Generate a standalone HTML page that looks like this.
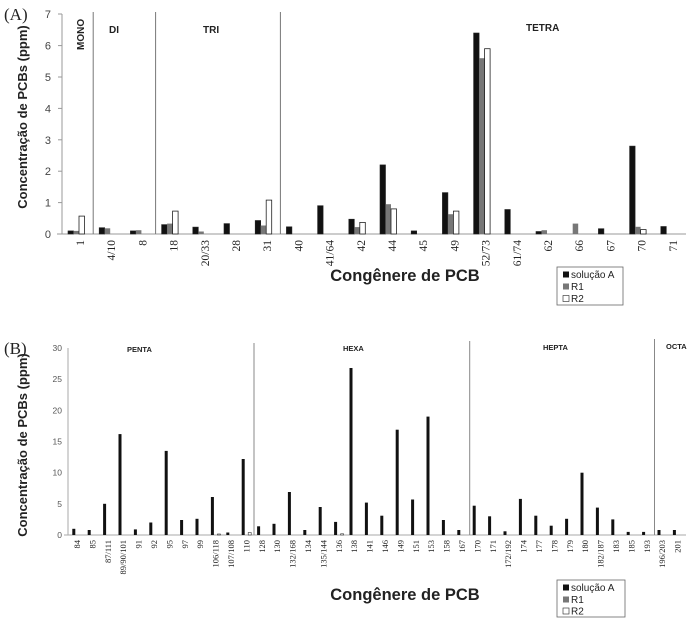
<!DOCTYPE html>
<html><head><meta charset="utf-8"><style>
html,body{margin:0;padding:0;background:#fff}
svg{display:block}
.t{font-family:"Liberation Serif",serif;fill:#222}
.s{font-family:"Liberation Sans",sans-serif}
</style></head><body>
<svg width="694" height="621" viewBox="0 0 694 621" xmlns="http://www.w3.org/2000/svg">
<!-- ================= A ================= -->
<text x="4" y="20" class="t" font-size="17">(A)</text>
<text transform="translate(27,117) rotate(-90)" text-anchor="middle" class="s" font-size="13" font-weight="bold" fill="#222">Concentração de PCBs (ppm)</text>
<g class="s" font-size="11" fill="#444" text-anchor="end">
<text x="51" y="238">0</text><text x="51" y="206.6">1</text><text x="51" y="175.2">2</text><text x="51" y="143.8">3</text><text x="51" y="112.4">4</text><text x="51" y="81">5</text><text x="51" y="49.6">6</text><text x="51" y="18.2">7</text>
</g>
<g stroke="#999" stroke-width="1">
<line x1="62" y1="14" x2="62" y2="234"/>
<line x1="57" y1="234" x2="686" y2="234"/>
<line x1="58" y1="14" x2="62" y2="14"/><line x1="58" y1="45.6" x2="62" y2="45.6"/><line x1="58" y1="77" x2="62" y2="77"/><line x1="58" y1="108.4" x2="62" y2="108.4"/><line x1="58" y1="139.8" x2="62" y2="139.8"/><line x1="58" y1="171.2" x2="62" y2="171.2"/><line x1="58" y1="202.6" x2="62" y2="202.6"/>
</g>
<g stroke="#777" stroke-width="1">
<line x1="93.2" y1="12" x2="93.2" y2="234"/>
<line x1="155.6" y1="12" x2="155.6" y2="234"/>
<line x1="280.4" y1="12" x2="280.4" y2="234"/>
</g>
<g class="s" font-size="10" font-weight="bold" fill="#222">
<text transform="translate(84,50) rotate(-90)">MONO</text>
<text x="109" y="33">DI</text>
<text x="203" y="33">TRI</text>
<text x="526" y="31">TETRA</text>
</g>
<g stroke="#222" stroke-width="0.6">
<rect x="68" y="230.9" width="5.5" height="3.1" fill="#111"/>
<rect x="99.2" y="227.7" width="5.5" height="6.3" fill="#111"/>
<rect x="130.4" y="230.9" width="5.5" height="3.1" fill="#111"/>
<rect x="161.6" y="224.6" width="5.5" height="9.4" fill="#111"/>
<rect x="192.8" y="227.1" width="5.5" height="6.9" fill="#111"/>
<rect x="224" y="223.6" width="5.5" height="10.4" fill="#111"/>
<rect x="255.2" y="220.5" width="5.5" height="13.5" fill="#111"/>
<rect x="286.4" y="226.8" width="5.5" height="7.2" fill="#111"/>
<rect x="317.6" y="205.7" width="5.5" height="28.3" fill="#111"/>
<rect x="348.8" y="219.2" width="5.5" height="14.8" fill="#111"/>
<rect x="380" y="164.9" width="5.5" height="69.1" fill="#111"/>
<rect x="411.2" y="230.9" width="5.5" height="3.1" fill="#111"/>
<rect x="442.4" y="192.6" width="5.5" height="41.4" fill="#111"/>
<rect x="473.6" y="33" width="5.5" height="201" fill="#111"/>
<rect x="504.8" y="209.5" width="5.5" height="24.5" fill="#111"/>
<rect x="536" y="231.5" width="5.5" height="2.5" fill="#111"/>
<rect x="598.4" y="228.7" width="5.5" height="5.3" fill="#111"/>
<rect x="629.6" y="146.1" width="5.5" height="87.9" fill="#111"/>
<rect x="660.8" y="226.5" width="5.5" height="7.5" fill="#111"/>
</g>
<g fill="#777">
<rect x="73.5" y="230.9" width="5.5" height="3.1"/>
<rect x="104.7" y="228.3" width="5.5" height="5.7"/>
<rect x="135.9" y="230.2" width="5.5" height="3.8"/>
<rect x="167.1" y="223.6" width="5.5" height="10.4"/>
<rect x="198.3" y="231.5" width="5.5" height="2.5"/>
<rect x="260.7" y="225.5" width="5.5" height="8.5"/>
<rect x="354.3" y="227.1" width="5.5" height="6.9"/>
<rect x="385.5" y="204.2" width="5.5" height="29.8"/>
<rect x="447.9" y="214.2" width="5.5" height="19.8"/>
<rect x="479.1" y="58.2" width="5.5" height="175.8"/>
<rect x="541.5" y="230.2" width="5.5" height="3.8"/>
<rect x="572.7" y="223.6" width="5.5" height="10.4"/>
<rect x="635.1" y="226.8" width="5.5" height="7.2"/>
</g>
<g fill="#fff" stroke="#222" stroke-width="0.8">
<rect x="79" y="216.1" width="5.5" height="17.9"/>
<rect x="172.6" y="211.1" width="5.5" height="22.9"/>
<rect x="266.2" y="200.1" width="5.5" height="33.9"/>
<rect x="359.8" y="222.4" width="5.5" height="11.6"/>
<rect x="391" y="208.9" width="5.5" height="25.1"/>
<rect x="453.4" y="211.1" width="5.5" height="22.9"/>
<rect x="484.6" y="48.7" width="5.5" height="185.3"/>
<rect x="640.6" y="229.6" width="5.5" height="4.4"/>
</g>
<g class="t" font-size="11.5" text-anchor="end">
<text transform="translate(84,240) rotate(-90)">1</text>
<text transform="translate(115.2,240) rotate(-90)">4/10</text>
<text transform="translate(146.4,240) rotate(-90)">8</text>
<text transform="translate(177.6,240) rotate(-90)">18</text>
<text transform="translate(208.8,240) rotate(-90)">20/33</text>
<text transform="translate(240,240) rotate(-90)">28</text>
<text transform="translate(271.2,240) rotate(-90)">31</text>
<text transform="translate(302.4,240) rotate(-90)">40</text>
<text transform="translate(333.6,240) rotate(-90)">41/64</text>
<text transform="translate(364.8,240) rotate(-90)">42</text>
<text transform="translate(396,240) rotate(-90)">44</text>
<text transform="translate(427.2,240) rotate(-90)">45</text>
<text transform="translate(458.4,240) rotate(-90)">49</text>
<text transform="translate(489.6,240) rotate(-90)">52/73</text>
<text transform="translate(520.8,240) rotate(-90)">61/74</text>
<text transform="translate(552,240) rotate(-90)">62</text>
<text transform="translate(583.2,240) rotate(-90)">66</text>
<text transform="translate(614.4,240) rotate(-90)">67</text>
<text transform="translate(645.6,240) rotate(-90)">70</text>
<text transform="translate(676.8,240) rotate(-90)">71</text>
</g>
<text x="405" y="281" text-anchor="middle" class="s" font-size="16.5" font-weight="bold" fill="#222">Congênere de PCB</text>
<rect x="557" y="267" width="66" height="38" fill="#fff" stroke="#666" stroke-width="0.8"/>
<g class="s" font-size="10" fill="#222">
<rect x="563" y="271.5" width="6" height="6" fill="#111"/><text x="571" y="278">solução A</text>
<rect x="563" y="283.5" width="6" height="6" fill="#777"/><text x="571" y="290">R1</text>
<rect x="563" y="295.5" width="6" height="6" fill="#fff" stroke="#222" stroke-width="0.6"/><text x="571" y="302">R2</text>
</g>

<!-- ================= B ================= -->
<text x="4" y="354" class="t" font-size="17">(B)</text>
<text transform="translate(27,445) rotate(-90)" text-anchor="middle" class="s" font-size="13" font-weight="bold" fill="#222">Concentração de PCBs (ppm)</text>
<g class="s" font-size="8.5" fill="#555" text-anchor="end">
<text x="62" y="538">0</text><text x="62" y="506.8">5</text><text x="62" y="475.7">10</text><text x="62" y="444.5">15</text><text x="62" y="413.4">20</text><text x="62" y="382.2">25</text><text x="62" y="351">30</text>
</g>
<g stroke="#aaa" stroke-width="1">
<line x1="68" y1="348" x2="68" y2="535"/>
<line x1="64" y1="535" x2="686" y2="535"/>
</g>
<g stroke="#888" stroke-width="1">
<line x1="254" y1="343" x2="254" y2="535"/>
<line x1="469.7" y1="341" x2="469.7" y2="535"/>
<line x1="654.5" y1="339" x2="654.5" y2="535"/>
</g>
<g class="s" font-size="7.5" font-weight="bold" fill="#222">
<text x="127" y="352">PENTA</text>
<text x="343" y="351">HEXA</text>
<text x="543" y="350">HEPTA</text>
<text x="666" y="349">OCTA</text>
</g>
<g fill="#111">
<rect x="72.3" y="528.8" width="3" height="6.2"/>
<rect x="87.7" y="530" width="3" height="5"/>
<rect x="103.1" y="503.8" width="3" height="31.2"/>
<rect x="118.5" y="434.1" width="3" height="100.9"/>
<rect x="133.9" y="529.4" width="3" height="5.6"/>
<rect x="149.3" y="522.5" width="3" height="12.5"/>
<rect x="164.7" y="450.9" width="3" height="84.1"/>
<rect x="180.1" y="520" width="3" height="15"/>
<rect x="195.5" y="518.8" width="3" height="16.2"/>
<rect x="210.9" y="497" width="3" height="38"/>
<rect x="226.3" y="532.5" width="3" height="2.5"/>
<rect x="241.7" y="459" width="3" height="76"/>
<rect x="257.1" y="526.3" width="3" height="8.7"/>
<rect x="272.5" y="523.8" width="3" height="11.2"/>
<rect x="287.9" y="492" width="3" height="43"/>
<rect x="303.3" y="530" width="3" height="5"/>
<rect x="318.7" y="507" width="3" height="28"/>
<rect x="334.1" y="521.9" width="3" height="13.1"/>
<rect x="349.5" y="368" width="3" height="167"/>
<rect x="364.9" y="502.6" width="3" height="32.4"/>
<rect x="380.3" y="515.7" width="3" height="19.3"/>
<rect x="395.7" y="429.7" width="3" height="105.3"/>
<rect x="411.1" y="499.5" width="3" height="35.5"/>
<rect x="426.5" y="416.6" width="3" height="118.4"/>
<rect x="441.9" y="520" width="3" height="15"/>
<rect x="457.3" y="530" width="3" height="5"/>
<rect x="472.7" y="505.7" width="3" height="29.3"/>
<rect x="488.1" y="516.3" width="3" height="18.7"/>
<rect x="503.5" y="531.3" width="3" height="3.7"/>
<rect x="518.9" y="498.9" width="3" height="36.1"/>
<rect x="534.3" y="515.7" width="3" height="19.3"/>
<rect x="549.7" y="525.7" width="3" height="9.3"/>
<rect x="565.1" y="518.8" width="3" height="16.2"/>
<rect x="580.5" y="472.7" width="3" height="62.3"/>
<rect x="595.9" y="507.6" width="3" height="27.4"/>
<rect x="611.3" y="519.4" width="3" height="15.6"/>
<rect x="626.7" y="531.9" width="3" height="3.1"/>
<rect x="642.1" y="531.9" width="3" height="3.1"/>
<rect x="657.5" y="530" width="3" height="5"/>
<rect x="672.9" y="530" width="3" height="5"/>
</g>
<g fill="#fff" stroke="#333" stroke-width="0.6">
<rect x="217.4" y="534" width="3" height="1"/>
<rect x="248.2" y="532.5" width="3" height="2.5"/>
<rect x="340.6" y="533.8" width="3" height="1.2"/>
</g>
<g class="t" font-size="8.5" text-anchor="end">
<text transform="translate(80,540) rotate(-90)">84</text>
<text transform="translate(95.4,540) rotate(-90)">85</text>
<text transform="translate(110.8,540) rotate(-90)">87/111</text>
<text transform="translate(126.2,540) rotate(-90)">89/90/101</text>
<text transform="translate(141.6,540) rotate(-90)">91</text>
<text transform="translate(157,540) rotate(-90)">92</text>
<text transform="translate(172.4,540) rotate(-90)">95</text>
<text transform="translate(187.8,540) rotate(-90)">97</text>
<text transform="translate(203.2,540) rotate(-90)">99</text>
<text transform="translate(218.6,540) rotate(-90)">106/118</text>
<text transform="translate(234,540) rotate(-90)">107/108</text>
<text transform="translate(249.4,540) rotate(-90)">110</text>
<text transform="translate(264.8,540) rotate(-90)">128</text>
<text transform="translate(280.2,540) rotate(-90)">130</text>
<text transform="translate(295.6,540) rotate(-90)">132/168</text>
<text transform="translate(311,540) rotate(-90)">134</text>
<text transform="translate(326.4,540) rotate(-90)">135/144</text>
<text transform="translate(341.8,540) rotate(-90)">136</text>
<text transform="translate(357.2,540) rotate(-90)">138</text>
<text transform="translate(372.6,540) rotate(-90)">141</text>
<text transform="translate(388,540) rotate(-90)">146</text>
<text transform="translate(403.4,540) rotate(-90)">149</text>
<text transform="translate(418.8,540) rotate(-90)">151</text>
<text transform="translate(434.2,540) rotate(-90)">153</text>
<text transform="translate(449.6,540) rotate(-90)">158</text>
<text transform="translate(465,540) rotate(-90)">167</text>
<text transform="translate(480.4,540) rotate(-90)">170</text>
<text transform="translate(495.8,540) rotate(-90)">171</text>
<text transform="translate(511.2,540) rotate(-90)">172/192</text>
<text transform="translate(526.6,540) rotate(-90)">174</text>
<text transform="translate(542,540) rotate(-90)">177</text>
<text transform="translate(557.4,540) rotate(-90)">178</text>
<text transform="translate(572.8,540) rotate(-90)">179</text>
<text transform="translate(588.2,540) rotate(-90)">180</text>
<text transform="translate(603.6,540) rotate(-90)">182/187</text>
<text transform="translate(619,540) rotate(-90)">183</text>
<text transform="translate(634.4,540) rotate(-90)">185</text>
<text transform="translate(649.8,540) rotate(-90)">193</text>
<text transform="translate(665.2,540) rotate(-90)">196/203</text>
<text transform="translate(680.6,540) rotate(-90)">201</text>
</g>
<text x="405" y="600" text-anchor="middle" class="s" font-size="16.5" font-weight="bold" fill="#222">Congênere de PCB</text>
<rect x="557" y="580" width="68" height="37" fill="#fff" stroke="#666" stroke-width="0.8"/>
<g class="s" font-size="10" fill="#222">
<rect x="563" y="584.5" width="6" height="6" fill="#111"/><text x="571" y="591">solução A</text>
<rect x="563" y="596.5" width="6" height="6" fill="#777"/><text x="571" y="603">R1</text>
<rect x="563" y="608" width="6" height="6" fill="#fff" stroke="#222" stroke-width="0.6"/><text x="571" y="614.5">R2</text>
</g>
</svg>
</body></html>
